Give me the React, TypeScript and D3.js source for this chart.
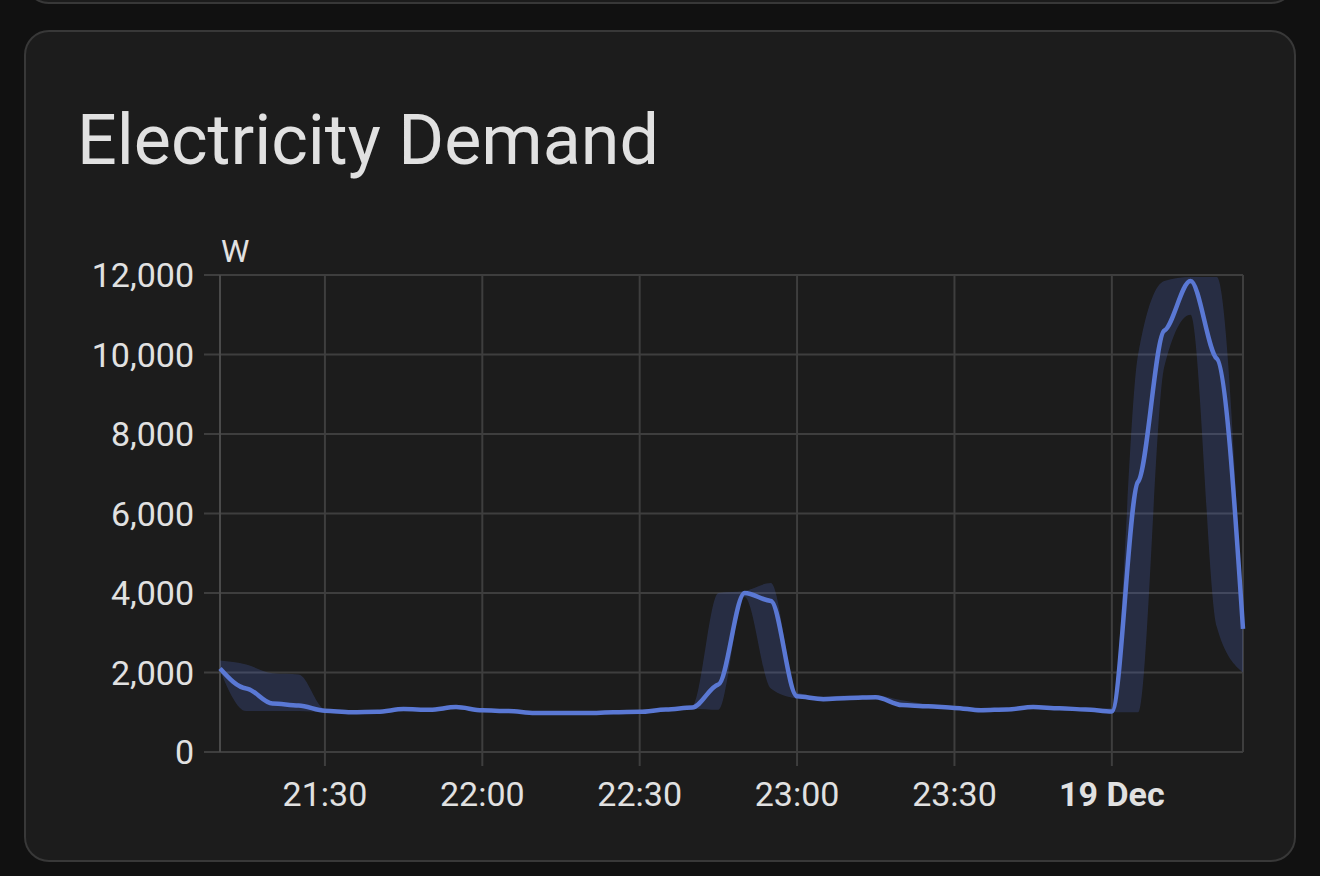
import React from "react";
import * as d3 from "d3";

const times = [
  "2024-12-18T21:10","2024-12-18T21:15","2024-12-18T21:20","2024-12-18T21:25","2024-12-18T21:30",
  "2024-12-18T21:35","2024-12-18T21:40","2024-12-18T21:45","2024-12-18T21:50","2024-12-18T21:55",
  "2024-12-18T22:00","2024-12-18T22:05","2024-12-18T22:10","2024-12-18T22:15","2024-12-18T22:20",
  "2024-12-18T22:25","2024-12-18T22:30","2024-12-18T22:35","2024-12-18T22:40","2024-12-18T22:45",
  "2024-12-18T22:50","2024-12-18T22:55","2024-12-18T23:00","2024-12-18T23:05","2024-12-18T23:10",
  "2024-12-18T23:15","2024-12-18T23:20","2024-12-18T23:25","2024-12-18T23:30","2024-12-18T23:35",
  "2024-12-18T23:40","2024-12-18T23:45","2024-12-18T23:50","2024-12-18T23:55","2024-12-19T00:00",
  "2024-12-19T00:05","2024-12-19T00:10","2024-12-19T00:15","2024-12-19T00:20","2024-12-19T00:25",
];

const meanW = [
  2100, 1600, 1220, 1170, 1040, 1000, 1010, 1080, 1060, 1130,
  1050, 1030, 980, 980, 980, 1000, 1010, 1070, 1120, 1700,
  4000, 3800, 1400, 1330, 1360, 1380, 1180, 1150, 1110, 1050,
  1070, 1130, 1100, 1070, 1020, 6800, 10600, 11850, 9900, 3100,
];

const minW = [
  2050, 1030, 1030, 1030, 1000, 980, 990, 1040, 1040, 1080,
  1020, 1000, 960, 960, 960, 980, 990, 1030, 1090, 1060,
  3900, 1600, 1350, 1300, 1320, 1340, 1150, 1120, 1080, 1030,
  1040, 1100, 1080, 1040, 1000, 1000, 9700, 11000, 3150, 2000,
];

const maxW = [
  2300, 2200, 1980, 1950, 1080, 1030, 1040, 1110, 1100, 1160,
  1090, 1060, 1000, 1000, 1000, 1030, 1040, 1100, 1150, 4000,
  4050, 4250, 1500, 1400, 1420, 1420, 1300, 1200, 1140, 1090,
  1100, 1160, 1130, 1100, 1100, 10000, 11850, 11950, 11950, 3100,
];

const yTicks = [0, 2000, 4000, 6000, 8000, 10000, 12000];
const xDomain = ["2024-12-18T21:10", "2024-12-19T00:25"];
const title = "Electricity Demand";
const unit = "W";

const W = 1320;
const H = 876;
const FONT = "Roboto, 'Noto Sans', sans-serif";

// Monotone curve with damped interior tangents (gives slight kinks at samples)
function dampedMonotone(k: number) {
  return function (context: any) {
    let pts: [number, number][] = [];
    return {
      areaStart() {},
      areaEnd() {},
      lineStart() {
        pts = [];
      },
      point(x: number, y: number) {
        pts.push([+x, +y]);
      },
      lineEnd() {
        const n = pts.length;
        if (!n) return;
        context.moveTo(pts[0][0], pts[0][1]);
        if (n === 1) return;
        const t = new Array(n).fill(0);
        const sign = (v: number) => (v < 0 ? -1 : 1);
        for (let i = 1; i < n - 1; i++) {
          const [x0, y0] = pts[i - 1];
          const [x1, y1] = pts[i];
          const [x2, y2] = pts[i + 1];
          const h0 = x1 - x0,
            h1 = x2 - x1;
          const s0 = (y1 - y0) / (h0 || 1);
          const s1 = (y2 - y1) / (h1 || 1);
          const p = (s0 * h1 + s1 * h0) / (h0 + h1);
          const tv = (sign(s0) + sign(s1)) * Math.min(Math.abs(s0), Math.abs(s1), 0.5 * Math.abs(p)) || 0;
          t[i] = tv * k;
        }
        if (n > 2) {
          const h = pts[1][0] - pts[0][0];
          t[0] = h ? (3 * (pts[1][1] - pts[0][1]) / h - t[1]) / 2 : t[1];
          const hl = pts[n - 1][0] - pts[n - 2][0];
          t[n - 1] = hl ? (3 * (pts[n - 1][1] - pts[n - 2][1]) / hl - t[n - 2]) / 2 : t[n - 2];
        } else {
          const s = (pts[1][1] - pts[0][1]) / (pts[1][0] - pts[0][0] || 1);
          t[0] = s;
          t[1] = s;
        }
        for (let i = 0; i < n - 1; i++) {
          const [xa, ya] = pts[i];
          const [xb, yb] = pts[i + 1];
          const dx = (xb - xa) / 3;
          context.bezierCurveTo(xa + dx, ya + dx * t[i], xb - dx, yb - dx * t[i + 1], xb, yb);
        }
      },
    };
  };
}

export default function App() {
  const parse = (s: string) => new Date(s);
  const x = d3.scaleTime().domain(xDomain.map(parse)).range([220, 1243]);
  const y = d3.scaleLinear().domain([0, 12000]).range([752, 275]);

  const data = times.map((t, i) => ({ t: parse(t), mean: meanW[i], min: minW[i], max: maxW[i] }));

  const line = d3
    .line<any>()
    .x((d) => x(d.t))
    .y((d) => y(d.mean))
    .curve(dampedMonotone(0.12) as any);
  const area = d3
    .area<any>()
    .x((d) => x(d.t))
    .y0((d) => y(d.min))
    .y1((d) => y(d.max))
    .curve(d3.curveMonotoneX);

  const xTicks = x.ticks(d3.timeMinute.every(30) as any);
  const fmtTime = d3.timeFormat("%H:%M");
  const fmtDay = d3.timeFormat("%-d %b");
  const fmtNum = d3.format(",");

  const [x0, x1] = x.range();
  const gridColor = "#3e3e3e";
  const textColor = "#e1e1e1";

  return (
    <div style={{ position: "fixed", left: 0, top: 0, width: W, height: H, background: "#111111" }}>
      <svg width={W} height={H} style={{ display: "block" }}>
        <rect x={0} y={0} width={W} height={H} fill="#111111" />
        {/* top card remnant */}
        <rect x={25} y={-60} width={1270} height={63} rx={24} fill="#1c1c1c" stroke="#383838" strokeWidth={2} />
        {/* main card */}
        <rect x={25} y={31} width={1270} height={830} rx={24} fill="#1c1c1c" stroke="#383838" strokeWidth={2} />
        <text x={77} y={164} fill={textColor} fontFamily={FONT} fontSize={70} fontWeight={400}>
          {title}
        </text>

        {/* horizontal grid + y ticks */}
        {yTicks.map((v) => (
          <g key={"y" + v}>
            <line x1={204} x2={x1} y1={y(v)} y2={y(v)} stroke={gridColor} strokeWidth={2} />
            <text
              x={194}
              y={y(v)}
              dy="0.36em"
              textAnchor="end"
              fill={textColor}
              fontFamily={FONT}
              fontSize={34}
            >
              {fmtNum(v)}
            </text>
          </g>
        ))}
        {/* vertical grid + x ticks */}
        {xTicks.map((t) => {
          const isDay = t.getHours() === 0 && t.getMinutes() === 0;
          return (
            <g key={"x" + t.getTime()}>
              <line x1={x(t)} x2={x(t)} y1={275} y2={766} stroke={gridColor} strokeWidth={2} />
              <text
                x={x(t)}
                y={806}
                textAnchor="middle"
                fill={textColor}
                fontFamily={FONT}
                fontSize={34}
                fontWeight={isDay ? 700 : 400}
              >
                {isDay ? fmtDay(t) : fmtTime(t)}
              </text>
            </g>
          );
        })}
        {/* axis and right edge */}
        <line x1={x0} x2={x0} y1={275} y2={752} stroke="#4a4a4a" strokeWidth={2} />
        <line x1={x1} x2={x1} y1={275} y2={752} stroke={gridColor} strokeWidth={2} />
        <text x={221} y={262} fill={textColor} fontFamily={FONT} fontSize={32}>
          {unit}
        </text>

        {/* band and line */}
        <path d={area(data) || ""} fill="rgba(80,110,210,0.22)" />
        <path d={line(data) || ""} fill="none" stroke="#5a78d4" strokeWidth={4.5} strokeLinejoin="round" />
      </svg>
    </div>
  );
}
